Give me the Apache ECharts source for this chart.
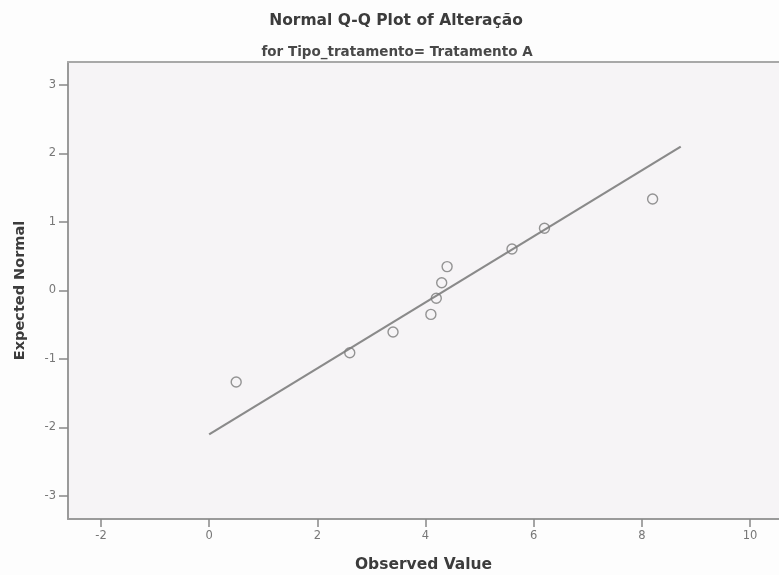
<!DOCTYPE html>
<html>
<head>
<meta charset="utf-8">
<script src="https://cdn.jsdelivr.net/npm/echarts@6/dist/echarts.min.js"></script>
<style>
html,body{margin:0;padding:0;background:#fdfdfd;}
#c{width:779px;height:575px;}
</style>
</head>
<body>
<div id="c"></div>
<script>
// Data
var observedValues = [0.5, 2.6, 3.4, 4.1, 4.2, 4.3, 4.4, 5.6, 6.2, 8.2];
var expectedNormal = [-1.335, -0.908, -0.605, -0.349, -0.114, 0.114, 0.349, 0.605, 0.908, 1.335];
var lineX = [0.0, 8.72];
var lineY = [-2.10, 2.10];
var xTicks = [-2, 0, 2, 4, 6, 8, 10];
var yTicks = [-3, -2, -1, 0, 1, 2, 3];
var titleText = 'Normal Q-Q Plot of Alteração';
var subtitleText = 'for Tipo_tratamento= Tratamento A';
var xName = 'Observed Value';
var yName = 'Expected Normal';

var points = observedValues.map(function (v, i) { return [v, expectedNormal[i]]; });
var linePts = lineX.map(function (v, i) { return [v, lineY[i]]; });

var chart = echarts.init(document.getElementById('c'), null, {renderer: 'canvas'});
var font = 'DejaVu Sans, Verdana, sans-serif';
chart.setOption({
  backgroundColor: '#fdfdfd',
  animation: false,
  title: [
    {text: titleText, left: 391, top: 8, textAlign: 'center',
     textStyle: {fontFamily: font, fontSize: 15.5, fontWeight: 'bold', color: '#3c3c3c'}},
    {text: subtitleText, left: 392, top: 40, textAlign: 'center',
     textStyle: {fontFamily: font, fontSize: 13.5, fontWeight: 'bold', color: '#484848'}}
  ],
  grid: {left: 68, right: 0, top: 62, bottom: 56, show: true, containLabel: false,
         outerBoundsMode: 'none',
         backgroundColor: '#f6f4f6', borderWidth: 0},
  xAxis: [{
    type: 'value', min: -2.61, max: 10.537,
    name: xName, nameLocation: 'middle', nameGap: 38,
    nameTextStyle: {fontFamily: font, fontSize: 15.5, fontWeight: 'bold', color: '#3c3c3c'},
    axisLine: {show: true, onZero: false, lineStyle: {color: '#9a9a9a', width: 2}},
    axisTick: {show: true, length: 8, customValues: xTicks, lineStyle: {color: '#888', width: 1.5}},
    axisLabel: {customValues: xTicks, margin: 11, fontFamily: font, fontSize: 11.5, color: '#777'},
    splitLine: {show: false}
  }, {
    type: 'value', position: 'top', min: -2.61, max: 10.537,
    axisLine: {show: true, onZero: false, lineStyle: {color: '#a8a8a8', width: 2}},
    axisTick: {show: false}, axisLabel: {show: false}, splitLine: {show: false}
  }],
  yAxis: {
    type: 'value', min: -3.336, max: 3.336,
    name: yName, nameLocation: 'middle', nameGap: 40, nameRotate: 90,
    nameTextStyle: {fontFamily: font, fontSize: 14.5, fontWeight: 'bold', color: '#3c3c3c'},
    axisLine: {show: true, onZero: false, lineStyle: {color: '#9a9a9a', width: 2}},
    axisTick: {show: true, length: 9, customValues: yTicks, lineStyle: {color: '#888', width: 1.5}},
    axisLabel: {customValues: yTicks, margin: 12, fontFamily: font, fontSize: 11.5, color: '#777'},
    splitLine: {show: false}
  },
  series: [
    {type: 'line', data: linePts, symbol: 'none', silent: true,
     lineStyle: {color: '#8a8a8a', width: 2.2}, z: 2},
    {type: 'scatter', data: points, symbol: 'circle', symbolSize: 10,
     itemStyle: {color: 'rgba(0,0,0,0)', borderColor: '#7a7a7a', borderWidth: 1.4}, z: 3}
  ]
});
</script>
</body>
</html>
